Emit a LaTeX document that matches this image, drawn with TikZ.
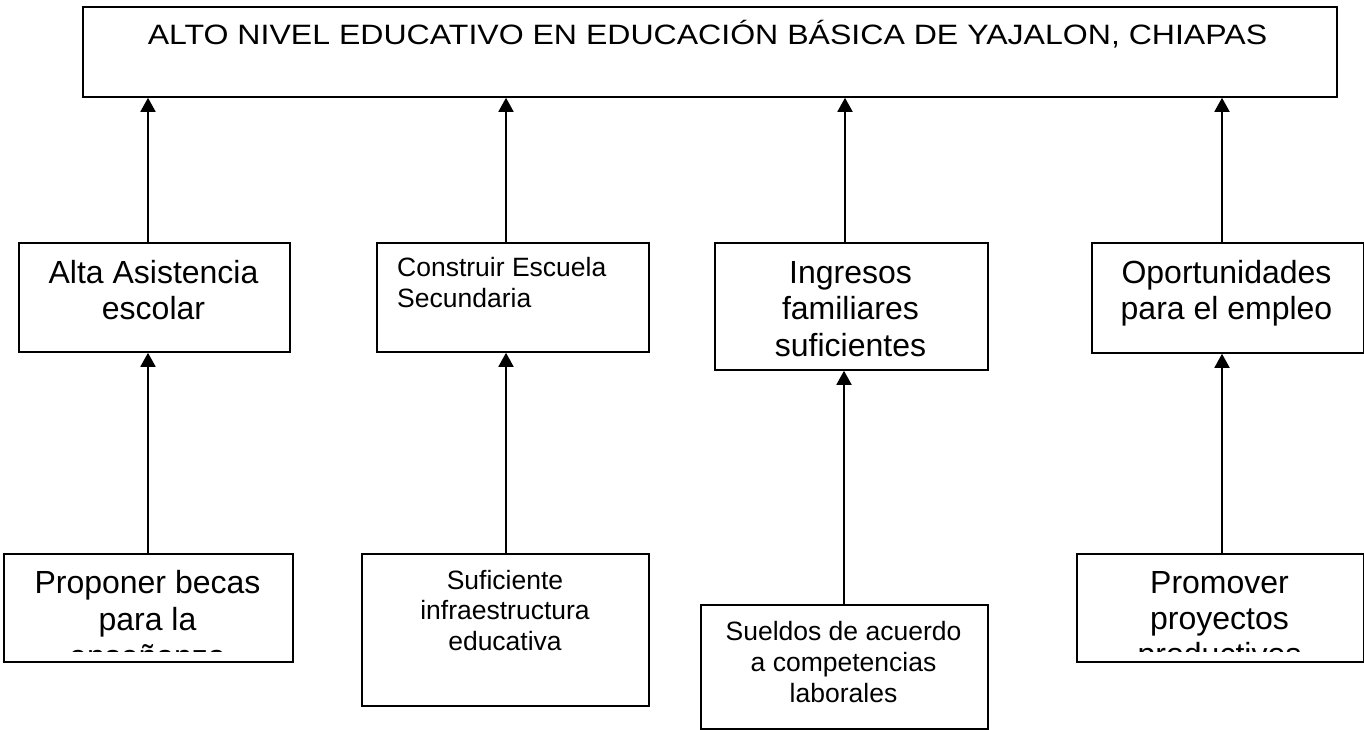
\documentclass[tikz,border=0pt]{standalone}
\usepackage{fontspec}
\usepackage{graphicx}
\setmainfont{Liberation Sans}
\usetikzlibrary{arrows.meta}
\newcommand{\cbox}[2]{\parbox[t]{#1}{\centering #2}}
\begin{document}
\begin{tikzpicture}[x=1pt,y=-1pt,
  box/.style={draw, line width=1.8pt, inner sep=0pt, anchor=north west},
  arr/.style={line width=1.8pt, -{Triangle[width=15pt,length=14pt]}},
  big/.style={inner sep=0pt, anchor=base, font={\fontsize{32pt}{36pt}\selectfont}},
  small/.style={inner sep=0pt, anchor=base, font={\fontsize{26.5pt}{31pt}\selectfont}}]
\useasboundingbox (0,0) rectangle (1364,730);
% boxes
\node[box, minimum width=1254pt, minimum height=90pt] (top) at (82,6) {};
\node[box, minimum width=271pt, minimum height=109pt] (m1) at (18,242) {};
\node[box, minimum width=272pt, minimum height=109pt] (m2) at (376,242) {};
\node[box, minimum width=273pt, minimum height=127pt] (m3) at (714,242) {};
\node[box, minimum width=272pt, minimum height=110pt] (m4) at (1091,242) {};
\node[box, minimum width=289pt, minimum height=108pt] (b1) at (3,553) {};
\node[box, minimum width=287pt, minimum height=152pt] (b2) at (361,553) {};
\node[box, minimum width=287pt, minimum height=124pt] (b3) at (700,604) {};
\node[box, minimum width=287pt, minimum height=108pt] (b4) at (1076,553) {};
% texts
\node[inner sep=0pt, anchor=base, font={\fontsize{28pt}{32pt}\selectfont}] (toptext) at (707.5,45) {\scalebox{1.145}[1]{ALTO NIVEL EDUCATIVO EN EDUCACIÓN BÁSICA DE YAJALON, CHIAPAS}};
\node[big] (m1t) at (153.5,283) {\cbox{260pt}{Alta Asistencia\\escolar}};
\node[small, anchor=base west] (m2t) at (397,276) {\parbox[t]{240pt}{\raggedright Construir Escuela\\Secundaria}};
\node[big, font={\fontsize{32pt}{36.5pt}\selectfont}] (m3t) at (850.5,283) {\cbox{260pt}{Ingresos\\familiares\\suficientes}};
\node[big] (m4t) at (1226.5,283) {\cbox{260pt}{Oportunidades\\para el empleo}};
\begin{scope}
\clip (3,553) rectangle (292,651);
\node[big, font={\fontsize{32pt}{37pt}\selectfont}] (b1t) at (147.5,593) {\cbox{280pt}{Proponer becas\\para la\\enseñanza}};
\end{scope}
\node[small, font={\fontsize{26.5pt}{30.5pt}\selectfont}] (b2t) at (505,589) {\cbox{280pt}{Suficiente\\infraestructura\\educativa}};
\node[small] (b3t) at (843.5,640) {\cbox{280pt}{Sueldos de acuerdo\\a competencias\\laborales}};
\begin{scope}
\clip (1076,553) rectangle (1363,651);
\node[big] (b4t) at (1219.5,593) {\cbox{280pt}{Promover\\proyectos\\productivos}};
\end{scope}
% arrow x positions
\coordinate (x1) at (148,0);
\coordinate (x2) at (506,0);
\coordinate (x3) at (845,0);
\coordinate (x4) at (1222,0);
\coordinate (x3b) at (844,0);
% arrows
\draw[arr] (m1.north -| x1) -- (top.south -| x1);
\draw[arr] (m2.north -| x2) -- (top.south -| x2);
\draw[arr] (m3.north -| x3) -- (top.south -| x3);
\draw[arr] (m4.north -| x4) -- (top.south -| x4);
\draw[arr] (b1.north -| x1) -- (m1.south -| x1);
\draw[arr] (b2.north -| x2) -- (m2.south -| x2);
\draw[arr] (b3.north -| x3b) -- (m3.south -| x3b);
\draw[arr] (b4.north -| x4) -- (m4.south -| x4);
\end{tikzpicture}
\end{document}
